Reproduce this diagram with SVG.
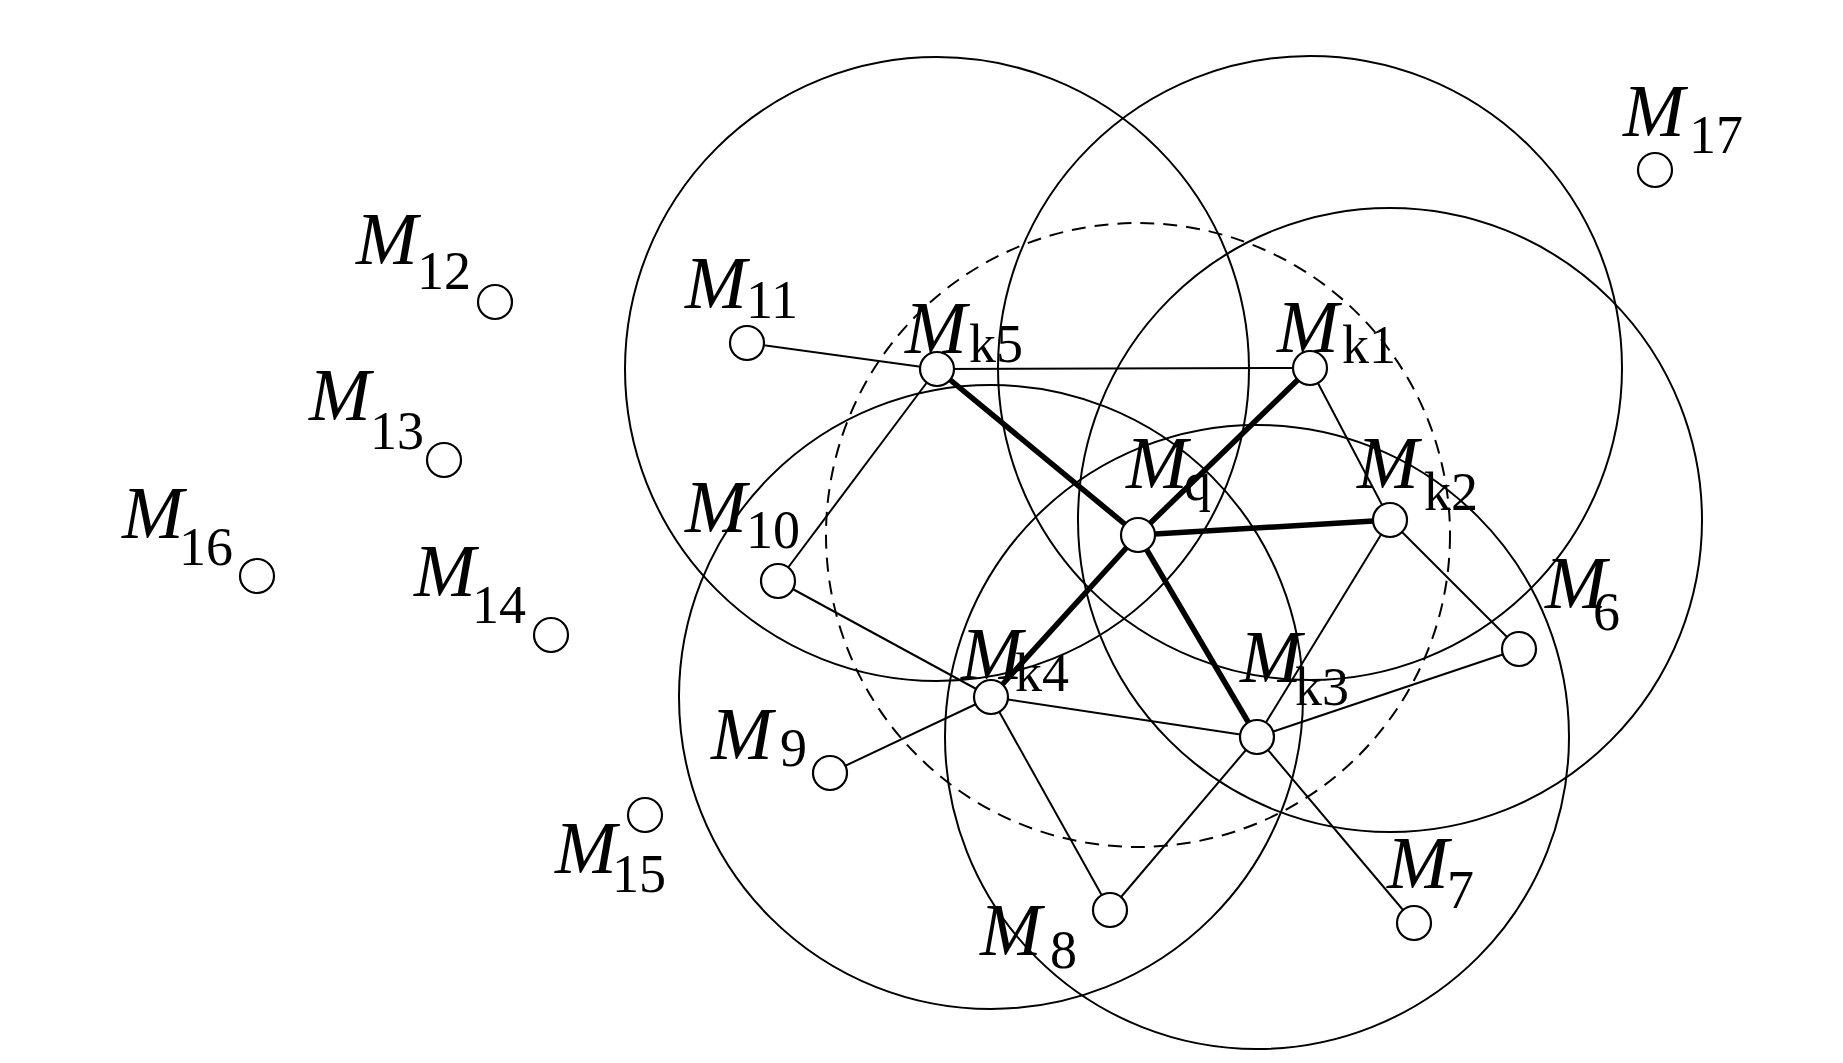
<svg xmlns="http://www.w3.org/2000/svg" width="1843" height="1063" viewBox="0 0 1843 1063">
<style>
.big{fill:none;stroke:#000;stroke-width:2}
.dash{fill:none;stroke:#000;stroke-width:2;stroke-dasharray:14 9}
.thin{stroke:#000;stroke-width:2;fill:none}
.thick{stroke:#000;stroke-width:5.5;fill:none}
.nd{fill:#fff;stroke:#000;stroke-width:2.2}
.m{font-family:"Liberation Serif","Times New Roman",serif;font-style:italic;font-size:74px;fill:#000}
.s{font-family:"Liberation Serif","Times New Roman",serif;font-size:54px;fill:#000}
</style>
<rect width="1843" height="1063" fill="#fff"/>
<g id="ranges">
<circle class="big" cx="937" cy="369" r="312"/>
<circle class="big" cx="1310" cy="368" r="312"/>
<circle class="big" cx="1390" cy="520" r="312"/>
<circle class="big" cx="1257" cy="737" r="312"/>
<circle class="big" cx="991" cy="697" r="312"/>
<circle class="dash" cx="1138" cy="535" r="312"/>
</g>
<g id="connectors">
<line class="thin" x1="747" y1="343" x2="937" y2="369"/>
<line class="thin" x1="937" y1="369" x2="1310" y2="368"/>
<line class="thin" x1="937" y1="369" x2="778" y2="581"/>
<line class="thin" x1="1310" y1="368" x2="1390" y2="520"/>
<line class="thin" x1="1390" y1="520" x2="1519" y2="649"/>
<line class="thin" x1="1390" y1="520" x2="1257" y2="737"/>
<line class="thin" x1="778" y1="581" x2="991" y2="697"/>
<line class="thin" x1="991" y1="697" x2="830" y2="773"/>
<line class="thin" x1="991" y1="697" x2="1257" y2="737"/>
<line class="thin" x1="991" y1="697" x2="1110" y2="910"/>
<line class="thin" x1="1257" y1="737" x2="1110" y2="910"/>
<line class="thin" x1="1257" y1="737" x2="1414" y2="923"/>
<line class="thin" x1="1257" y1="737" x2="1519" y2="649"/>
<line class="thick" x1="1138" y1="535" x2="937" y2="369"/>
<line class="thick" x1="1138" y1="535" x2="1310" y2="368"/>
<line class="thick" x1="1138" y1="535" x2="1390" y2="520"/>
<line class="thick" x1="1138" y1="535" x2="1257" y2="737"/>
<line class="thick" x1="1138" y1="535" x2="991" y2="697"/>
</g>
<g id="Mq"><circle class="nd" cx="1138" cy="535" r="17"/><text class="m" x="1126" y="488">M</text><text class="s" x="1184" y="500">q</text></g>
<g id="Mk1"><circle class="nd" cx="1310" cy="368" r="17"/><text class="m" x="1277" y="352">M</text><text class="s" x="1342" y="363">k1</text></g>
<g id="Mk2"><circle class="nd" cx="1390" cy="520" r="17"/><text class="m" x="1357" y="488">M</text><text class="s" x="1424" y="510">k2</text></g>
<g id="Mk3"><circle class="nd" cx="1257" cy="737" r="17"/><text class="m" x="1240" y="682">M</text><text class="s" x="1295" y="705">k3</text></g>
<g id="Mk4"><circle class="nd" cx="991" cy="697" r="17"/><text class="m" x="961" y="679">M</text><text class="s" x="1015" y="691">k4</text></g>
<g id="Mk5"><circle class="nd" cx="937" cy="369" r="17"/><text class="m" x="905" y="353">M</text><text class="s" x="969" y="362">k5</text></g>
<g id="M6"><circle class="nd" cx="1519" cy="649" r="17"/><text class="m" x="1545" y="608">M</text><text class="s" x="1593" y="630">6</text></g>
<g id="M7"><circle class="nd" cx="1414" cy="923" r="17"/><text class="m" x="1387" y="888">M</text><text class="s" x="1447" y="908">7</text></g>
<g id="M8"><circle class="nd" cx="1110" cy="910" r="17"/><text class="m" x="980" y="955">M</text><text class="s" x="1050" y="968">8</text></g>
<g id="M9"><circle class="nd" cx="830" cy="773" r="17"/><text class="m" x="711" y="759">M</text><text class="s" x="780" y="766">9</text></g>
<g id="M10"><circle class="nd" cx="778" cy="581" r="17"/><text class="m" x="685" y="532">M</text><text class="s" x="746" y="548">10</text></g>
<g id="M11"><circle class="nd" cx="747" cy="343" r="17"/><text class="m" x="685" y="308">M</text><text class="s" x="746" y="318">11</text></g>
<g id="M12"><circle class="nd" cx="495" cy="302" r="17"/><text class="m" x="356" y="264">M</text><text class="s" x="417" y="289">12</text></g>
<g id="M13"><circle class="nd" cx="444" cy="460" r="17"/><text class="m" x="309" y="420">M</text><text class="s" x="370" y="449">13</text></g>
<g id="M14"><circle class="nd" cx="551" cy="635" r="17"/><text class="m" x="414" y="596">M</text><text class="s" x="472" y="623">14</text></g>
<g id="M15"><circle class="nd" cx="645" cy="815" r="17"/><text class="m" x="555" y="873">M</text><text class="s" x="612" y="892">15</text></g>
<g id="M16"><circle class="nd" cx="257" cy="576" r="17"/><text class="m" x="122" y="538">M</text><text class="s" x="179" y="565">16</text></g>
<g id="M17"><circle class="nd" cx="1655" cy="170" r="17"/><text class="m" x="1623" y="136">M</text><text class="s" x="1689" y="153">17</text></g>
</svg>
